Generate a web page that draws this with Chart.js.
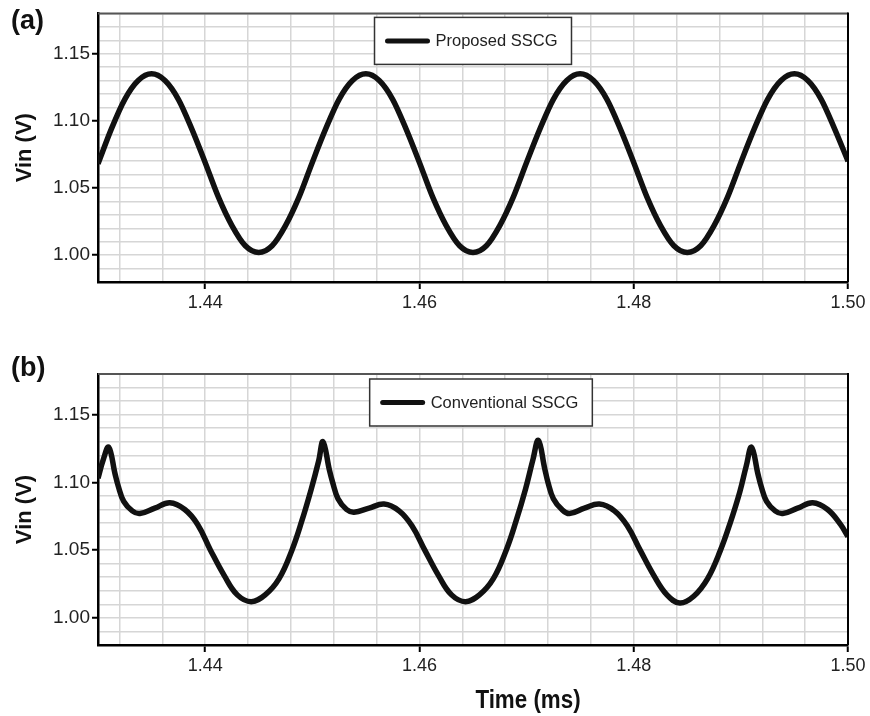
<!DOCTYPE html>
<html>
<head>
<meta charset="utf-8">
<script src="https://cdn.jsdelivr.net/npm/chart.js@4.4.1/dist/chart.umd.min.js"></script>
<style>
  body { margin: 0; background: #fff; }
  #wrap { position: relative; width: 870px; height: 716px; font-family: "Liberation Sans", Arial, sans-serif; }
  canvas { position: absolute; left: 0; }
  .panel { position: absolute; left: 11px; font-weight: bold; font-size: 27px; line-height: 1; color: #111; }
  #xtitle { position: absolute; width: 200px; left: 428px; top: 686px; text-align: center;
            font: bold 26px "Liberation Sans", Arial, sans-serif; line-height: 1; color: #111;
            transform: scaleX(0.86); }
</style>
</head>
<body>
<div id="wrap">
  <canvas id="chartA" width="870" height="360" style="top:0"></canvas>
  <canvas id="chartB" width="870" height="356" style="top:360px"></canvas>
  <div class="panel" style="top:7px">(a)</div>
  <div class="panel" style="top:354px">(b)</div>
  <div id="xtitle">Time (ms)</div>
</div>
<script>
// x range and tick labels (ms), y range and tick labels (V)
const xMin = 1.43, xMax = 1.50, xGridStep = 0.004;
const xTickLabels = [1.44, 1.46, 1.48, 1.50];
const yMin = 0.98, yMax = 1.18, yGridStep = 0.01;
const yTickLabels = [1.00, 1.05, 1.10, 1.15];

// (a) Proposed SSCG
const timeA = [
  1.43000, 1.43125, 1.43250, 1.43375, 1.43500, 1.43625, 1.43750, 1.43875,
  1.44000, 1.44125, 1.44250, 1.44375, 1.44500, 1.44625, 1.44750, 1.44875,
  1.45000, 1.45125, 1.45250, 1.45375, 1.45500, 1.45625, 1.45750, 1.45875,
  1.46000, 1.46125, 1.46250, 1.46375, 1.46500, 1.46625, 1.46750, 1.46875,
  1.47000, 1.47125, 1.47250, 1.47375, 1.47500, 1.47625, 1.47750, 1.47875,
  1.48000, 1.48125, 1.48250, 1.48375, 1.48500, 1.48625, 1.48750, 1.48875,
  1.49000, 1.49125, 1.49250, 1.49375, 1.49500, 1.49625, 1.49750, 1.49875,
  1.50000
];
const vinA = [
  1.068, 1.094, 1.116, 1.130, 1.135, 1.130, 1.116, 1.094,
  1.069, 1.043, 1.022, 1.007, 1.002, 1.007, 1.022, 1.043,
  1.069, 1.094, 1.116, 1.130, 1.135, 1.130, 1.116, 1.094,
  1.069, 1.043, 1.022, 1.007, 1.002, 1.007, 1.022, 1.043,
  1.069, 1.094, 1.116, 1.130, 1.135, 1.130, 1.116, 1.094,
  1.069, 1.043, 1.022, 1.007, 1.002, 1.007, 1.022, 1.043,
  1.069, 1.094, 1.116, 1.130, 1.135, 1.130, 1.116, 1.094,
  1.070
];

// (b) Conventional SSCG
const timeB = [
  1.4300, 1.4305, 1.4310, 1.4316, 1.4319, 1.4324, 1.4332, 1.4339, 1.4353, 1.4367,
  1.4381, 1.4393, 1.4405, 1.4418, 1.4430, 1.4443, 1.4456, 1.4469, 1.4481, 1.4490,
  1.4499, 1.4506, 1.4510, 1.4516, 1.4519, 1.4524, 1.4532, 1.4539, 1.4553, 1.4567,
  1.4581, 1.4593, 1.4605, 1.4618, 1.4630, 1.4643, 1.4656, 1.4669, 1.4681, 1.4690,
  1.4699, 1.4706, 1.4711, 1.4717, 1.4720, 1.4725, 1.4733, 1.4740, 1.4754, 1.4768,
  1.4782, 1.4794, 1.4806, 1.4819, 1.4831, 1.4843, 1.4856, 1.4869, 1.4881, 1.4890,
  1.4899, 1.4905, 1.4910, 1.4916, 1.4919, 1.4924, 1.4932, 1.4939, 1.4953, 1.4967,
  1.4981, 1.4993, 1.5000
];
const vinB = [
  1.103, 1.117, 1.126, 1.106, 1.097, 1.086, 1.079, 1.077, 1.081, 1.085,
  1.080, 1.069, 1.050, 1.031, 1.017, 1.012, 1.017, 1.029, 1.050, 1.071,
  1.095, 1.116, 1.130, 1.109, 1.100, 1.088, 1.080, 1.078, 1.081, 1.084,
  1.079, 1.068, 1.050, 1.031, 1.017, 1.012, 1.017, 1.029, 1.050, 1.071,
  1.095, 1.117, 1.131, 1.110, 1.100, 1.088, 1.080, 1.077, 1.081, 1.084,
  1.079, 1.068, 1.050, 1.031, 1.017, 1.011, 1.016, 1.029, 1.050, 1.070,
  1.093, 1.112, 1.126, 1.106, 1.097, 1.086, 1.079, 1.077, 1.081, 1.085,
  1.080, 1.069, 1.060
];

const FONT = '"Liberation Sans", Arial, sans-serif';
const GRID = '#d6d6d6';

function gridTicks(min, max, step) {
    const out = [];
    for (let i = Math.ceil(min / step - 1e-6); i * step <= max + 1e-9; i++) {
        out.push({ value: +(i * step).toFixed(4) });
    }
    return out;
}

function isLabel(v, list) {
    return list.some(a => Math.abs(a - v) < 1e-6);
}

// top/right frame of the plot area
const frame = {
    id: 'frame',
    afterDatasetsDraw(chart) {
        const { ctx, chartArea: a } = chart;
        ctx.save();
        ctx.lineWidth = 2;
        ctx.strokeStyle = '#555';
        ctx.beginPath();
        ctx.moveTo(a.left, a.top);
        ctx.lineTo(a.right, a.top);
        ctx.stroke();
        ctx.strokeStyle = '#000';
        ctx.beginPath();
        ctx.moveTo(a.right, a.top - 1);
        ctx.lineTo(a.right, a.bottom);
        ctx.stroke();
        ctx.restore();
    }
};

// boxed legend inside the plot, near the top
const boxLegend = {
    id: 'boxLegend',
    afterDraw(chart, args, opts) {
        const { ctx, chartArea: a } = chart;
        const ds = chart.data.datasets[0];
        ctx.save();
        ctx.font = '16.5px ' + FONT;
        const tw = ctx.measureText(ds.label).width;
        const w = 11 + 42 + 8 + tw + 14;
        const h = 47;
        const x = (a.left + a.right) / 2 + opts.shift - w / 2;
        const y = a.top + opts.top;
        ctx.fillStyle = '#fff';
        ctx.fillRect(x, y, w, h);
        ctx.strokeStyle = '#333';
        ctx.lineWidth = 1.5;
        ctx.strokeRect(x, y, w, h);
        ctx.strokeStyle = '#111';
        ctx.lineWidth = 5;
        ctx.lineCap = 'round';
        ctx.beginPath();
        ctx.moveTo(x + 13, y + h / 2);
        ctx.lineTo(x + 53, y + h / 2);
        ctx.stroke();
        ctx.fillStyle = '#222';
        ctx.textBaseline = 'middle';
        ctx.fillText(ds.label, x + 61, y + h / 2 + 1);
        ctx.restore();
    }
};

function makeChart(id, times, values, label, cfg) {
    const ctx = document.getElementById(id).getContext('2d');
    return new Chart(ctx, {
        type: 'line',
        data: {
            datasets: [{
                label: label,
                data: times.map((t, i) => ({ x: t, y: values[i] })),
                borderColor: '#111',
                borderWidth: 5.5,
                pointRadius: 0,
                cubicInterpolationMode: cfg.mode,
                tension: cfg.tension,
                fill: false
            }]
        },
        options: {
            responsive: false,
            animation: false,
            devicePixelRatio: 1,
            layout: { padding: { top: cfg.padTop, right: 22, left: 0, bottom: 0 } },
            plugins: {
                legend: { display: false },
                tooltip: { enabled: false },
                boxLegend: { top: cfg.legendTop, shift: cfg.legendShift }
            },
            scales: {
                x: {
                    type: 'linear',
                    min: xMin,
                    max: xMax,
                    afterBuildTicks: s => { s.ticks = gridTicks(xMin, xMax, xGridStep); },
                    afterFit: s => { s.height = cfg.xHeight; },
                    ticks: {
                        autoSkip: false,
                        maxRotation: 0,
                        padding: 3,
                        color: '#222',
                        font: { family: FONT, size: 18 },
                        callback: v => isLabel(v, xTickLabels) ? v.toFixed(2) : ''
                    },
                    grid: {
                        color: GRID,
                        lineWidth: 1.5,
                        tickLength: 7,
                        tickWidth: 2,
                        tickColor: c => (c.tick && isLabel(c.tick.value, xTickLabels)) ? '#000' : 'rgba(0,0,0,0)'
                    },
                    border: { color: '#000', width: 2.5 }
                },
                y: {
                    min: yMin,
                    max: yMax,
                    afterBuildTicks: s => { s.ticks = gridTicks(yMin, yMax, yGridStep); },
                    afterFit: s => { s.width = 98; },
                    title: {
                        display: true,
                        text: 'Vin (V)',
                        color: '#111',
                        font: { family: FONT, size: 22, weight: 'bold' },
                        padding: { top: 12, bottom: 0 }
                    },
                    ticks: {
                        autoSkip: false,
                        padding: 2,
                        color: '#222',
                        font: { family: FONT, size: 19 },
                        callback: v => isLabel(v, yTickLabels) ? v.toFixed(2) : ''
                    },
                    grid: {
                        color: GRID,
                        lineWidth: 1.5,
                        tickLength: 6,
                        tickWidth: 2,
                        tickColor: c => (c.tick && isLabel(c.tick.value, yTickLabels)) ? '#000' : 'rgba(0,0,0,0)'
                    },
                    border: { color: '#000', width: 2.5 }
                }
            }
        },
        plugins: [frame, boxLegend]
    });
}

makeChart('chartA', timeA, vinA, 'Proposed SSCG',
    { padTop: 13, xHeight: 78, legendTop: 4, legendShift: 0, mode: 'monotone', tension: 0 });
makeChart('chartB', timeB, vinB, 'Conventional SSCG',
    { padTop: 14, xHeight: 71, legendTop: 5, legendShift: 8, mode: 'default', tension: 0.4 });
</script>
</body>
</html>
